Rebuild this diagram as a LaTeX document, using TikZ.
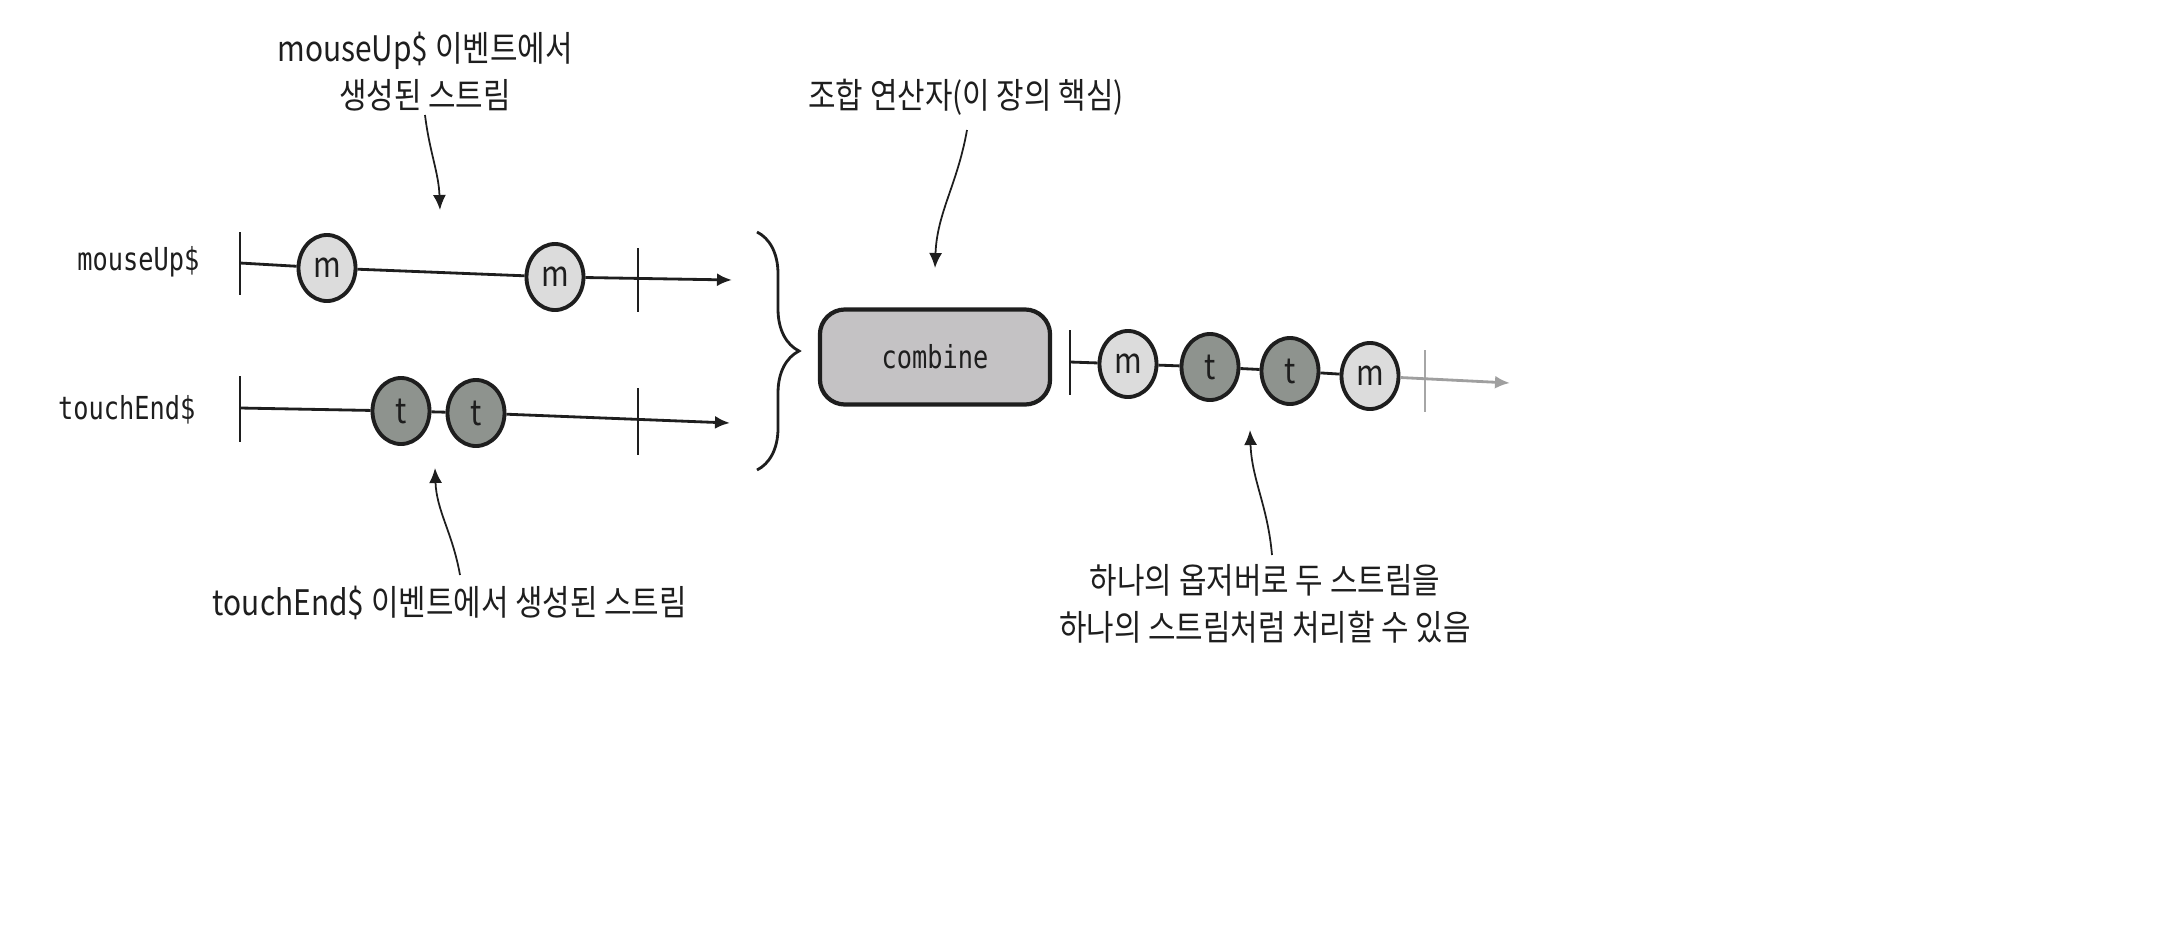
\documentclass[tikz,border=0pt]{standalone}
\usepackage{fontspec}
\newfontfamily\kr[FakeStretch=0.85]{Noto Sans CJK KR}
\newfontfamily\mono[FakeStretch=0.8]{DejaVu Sans Mono}
\usetikzlibrary{shapes.geometric,arrows.meta,decorations.pathreplacing}
\definecolor{mfill}{HTML}{DCDCDC}
\definecolor{tfill}{HTML}{8E938E}
\definecolor{boxfill}{HTML}{C4C2C4}
\definecolor{ink}{HTML}{1E1E1E}
\tikzset{
  lbl/.style={font=\kr\fontsize{10}{13.4}\selectfont, text=ink, align=center, inner sep=0pt},
  sname/.style={font=\mono\fontsize{9}{11}\selectfont, text=ink, anchor=east, inner sep=0pt},
  ev/.style={ellipse, draw=ink, line width=1.1pt, minimum width=0.57cm, minimum height=0.66cm, inner sep=0pt, font=\kr\fontsize{10}{12}\selectfont, text=ink},
  mev/.style={ev, fill=mfill},
  tev/.style={ev, fill=tfill},
  stream/.style={draw=ink, line width=0.8pt, -{Latex[length=0.15cm,width=0.13cm]}},
  seg/.style={draw=ink, line width=0.8pt},
  tickmark/.style={draw=ink, line width=0.6pt},
  ann/.style={draw=ink, line width=0.5pt, -{Latex[length=0.15cm,width=0.13cm]}},
  opbox/.style={draw=ink, line width=1.2pt, fill=boxfill, rounded corners=0.25cm, minimum width=2.3cm, minimum height=0.95cm, font=\mono\fontsize{9}{11}\selectfont, text=ink}
}
\begin{document}
\begin{tikzpicture}[x=0.01cm,y=-0.01cm]
\useasboundingbox (0,0) rectangle (2172,948);

% stream names
\node[sname] (nmouse) at (200,262) {mouseUp\$};
\node[sname] (ntouch) at (196,410) {touchEnd\$};

% mouseUp stream
\coordinate (s1) at (240,263);
\coordinate (e1) at (732,280);
\draw[tickmark] (240,232) -- (240,295);
\draw[tickmark] (638,248) -- (638,312);
\node[mev] (m1) at (327,268) {m};
\node[mev] (m2) at (555,277) {m};
\draw[seg] (s1) -- (m1) -- (m2);
\draw[stream] (m2) -- (e1);

% touchEnd stream
\coordinate (s2) at (240,408);
\coordinate (e2) at (730,423);
\draw[tickmark] (240,376) -- (240,442);
\draw[tickmark] (638,388) -- (638,455);
\node[tev] (t1) at (401,411) {t};
\node[tev] (t2) at (476,413) {t};
\draw[seg] (s2) -- (t1) -- (t2);
\draw[stream] (t2) -- (e2);

% brace
\draw[ink, line width=0.8pt, decorate, decoration={brace, amplitude=0.42cm}] (757,232) -- (757,470);

% combine operator
\node[opbox] (comb) at (935,357) {combine};

% output stream
\coordinate (s3) at (1070,362);
\coordinate (e3) at (1510,383);
\draw[tickmark] (1070,330) -- (1070,395);
\draw[tickmark, draw=gray!70] (1425,350) -- (1425,412);
\node[mev] (o1) at (1128,364) {m};
\node[tev] (o2) at (1210,367) {t};
\node[tev] (o3) at (1290,371) {t};
\node[mev] (o4) at (1370,376) {m};
\draw[seg] (s3) -- (o1) -- (o2) -- (o3) -- (o4);
\draw[stream, draw=gray!75, -{Latex[length=0.15cm,width=0.13cm,fill=gray!75]}] (o4) -- (e3);

% annotations
\node[lbl] (la) at (425,72) {mouseUp\$ 이벤트에서\\생성된 스트림};
\coordinate (la-end) at (440,210);
\draw[ann] (425,115) to[out=-83,in=92] (la-end);

\node[lbl] (lb) at (966,97) {조합 연산자(이 장의 핵심)};
\coordinate (lb-end) at (935,268);
\draw[ann] (967,130) to[out=-100,in=88] (lb-end);

\node[lbl] (lc) at (450,603) {touchEnd\$ 이벤트에서 생성된 스트림};
\coordinate (lc-end) at (435,468);
\draw[ann] (460,575) to[out=100,in=-88] (lc-end);

\node[lbl] (ld) at (1265,604) {하나의 옵저버로 두 스트림을\\하나의 스트림처럼 처리할 수 있음};
\coordinate (ld-end) at (1250,430);
\draw[ann] (1272,555) to[out=95,in=-88] (ld-end);
\end{tikzpicture}
\end{document}
